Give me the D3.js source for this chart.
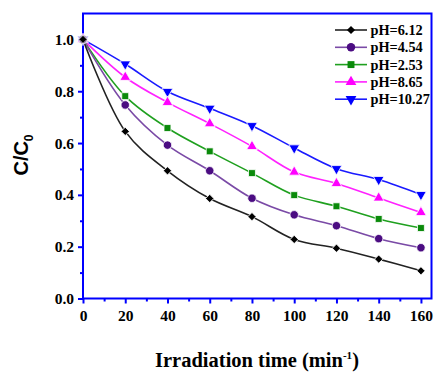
<!DOCTYPE html>
<html><head><meta charset="utf-8">
<script src="https://cdn.jsdelivr.net/npm/d3@7"></script>
<style>body{margin:0;background:#fff}svg{display:block}</style>
</head><body>
<svg id="c" width="434" height="373"></svg>
<script>
const times = [0, 20, 40, 60, 80, 100, 120, 140, 160];
const ph612  = [1.0, 0.645, 0.493, 0.386, 0.316, 0.228, 0.194, 0.152, 0.107];
const ph454  = [1.0, 0.747, 0.592, 0.493, 0.387, 0.323, 0.281, 0.231, 0.196];
const ph253  = [1.0, 0.781, 0.658, 0.568, 0.484, 0.399, 0.356, 0.307, 0.272];
const ph865  = [1.0, 0.854, 0.757, 0.675, 0.587, 0.488, 0.444, 0.388, 0.332];
const ph1027 = [1.0, 0.905, 0.799, 0.734, 0.667, 0.581, 0.501, 0.459, 0.401];
const seriesNames = ["pH=6.12", "pH=4.54", "pH=2.53", "pH=8.65", "pH=10.27"];
const xTicks = [0, 20, 40, 60, 80, 100, 120, 140, 160];
const yTicks = [0.0, 0.2, 0.4, 0.6, 0.8, 1.0];

const series = [
  {name: seriesNames[0], values: ph612,  line: "#222222", fill: "#000000", sym: d3.symbolSquare, size: 34, rot: 45},
  {name: seriesNames[1], values: ph454,  line: "#7a4aa6", fill: "#4b0c82", sym: d3.symbolCircle,  size: 56, rot: 0},
  {name: seriesNames[2], values: ph253,  line: "#1fa01f", fill: "#0a8a0a", sym: d3.symbolSquare,  size: 48, rot: 0},
  {name: seriesNames[3], values: ph865,  line: "#ff22ff", fill: "#ff00ff", sym: d3.symbolTriangle, size: 50, rot: 0},
  {name: seriesNames[4], values: ph1027, line: "#1a1aff", fill: "#0000ff", sym: d3.symbolTriangle, size: 50, rot: 180}
];

const svg = d3.select("#c");
const L = 83, R = 431.5, T = 13.5, B = 298.5;
const x = d3.scaleLinear().domain([0, 165]).range([L, R]);
const y = d3.scaleLinear().domain([0, 1.1]).range([B, T]);
const axisColor = "#0000ff";
const serif = "'Liberation Serif','Times New Roman',serif";

// frame
svg.append("rect").attr("x", L).attr("y", T).attr("width", R - L).attr("height", B - T)
  .attr("fill", "none").attr("stroke", axisColor).attr("stroke-width", 2);

// x axis
const xMinor = d3.range(10, 165, 20);
const gx = svg.append("g").attr("transform", `translate(0,${B})`);
gx.call(d3.axisBottom(x).tickValues(xTicks).tickSize(5).tickPadding(6).tickFormat(d3.format("d")));
gx.append("g").call(d3.axisBottom(x).tickValues(xMinor).tickSize(3).tickFormat(""));
// y axis
const yMinor = d3.range(0.1, 1.1, 0.2);
const gy = svg.append("g").attr("transform", `translate(${L},0)`);
gy.call(d3.axisLeft(y).tickValues(yTicks).tickSize(5).tickPadding(4).tickFormat(d3.format(".1f")));
gy.append("g").call(d3.axisLeft(y).tickValues(yMinor).tickSize(3).tickFormat(""));

svg.selectAll(".domain").remove();
svg.selectAll(".tick line").attr("stroke", axisColor).attr("stroke-width", 2);
svg.selectAll(".tick text").attr("fill", "#000").attr("font-family", serif)
  .attr("font-weight", "bold").attr("font-size", 15.5);

// series
const lineGen = d3.line().x(d => x(d[0])).y(d => y(d[1])).curve(d3.curveCatmullRom.alpha(0.5));
const order = series.slice().reverse();
order.forEach(s => {
  const pts = times.map((t, i) => [t, s.values[i]]);
  svg.append("path").attr("d", lineGen(pts)).attr("fill", "none")
    .attr("stroke", s.line).attr("stroke-width", 1.6);
});
order.forEach(s => {
  const pts = times.map((t, i) => [t, s.values[i]]);
  svg.append("g").selectAll("path").data(pts).join("path")
    .attr("d", d3.symbol().type(s.sym).size(s.size))
    .attr("transform", d => `translate(${x(d[0])},${y(d[1])}) rotate(${s.rot})`)
    .attr("fill", s.fill).attr("stroke", "#fff").attr("stroke-width", 0.8);
});

// legend
const lg = svg.append("g");
series.forEach((s, i) => {
  const yy = 30 + i * 17.3;
  lg.append("line").attr("x1", 335).attr("x2", 367).attr("y1", yy).attr("y2", yy)
    .attr("stroke", s.line).attr("stroke-width", 1.6);
  lg.append("path").attr("d", d3.symbol().type(s.sym).size(s.size))
    .attr("transform", `translate(351,${yy}) rotate(${s.rot})`)
    .attr("fill", s.fill);
  lg.append("text").attr("x", 370.5).attr("y", yy + 5).text(s.name)
    .attr("font-family", serif).attr("font-weight", "bold").attr("font-size", 14.3).attr("fill", "#000");
});

// axis titles
svg.append("text").attr("transform", "translate(28,155) rotate(-90)")
  .attr("text-anchor", "middle").attr("font-family", "'Liberation Sans',Arial,sans-serif")
  .attr("font-weight", "bold").attr("font-size", 20).attr("fill", "#000")
  .html('C/C<tspan font-size="12" dy="5">0</tspan>');
svg.append("text").attr("x", 257).attr("y", 367).attr("text-anchor", "middle")
  .attr("font-family", serif).attr("font-weight", "bold").attr("font-size", 20.5).attr("fill", "#000")
  .html('Irradiation time (min<tspan font-size="11" dy="-8">-1</tspan><tspan dy="8">)</tspan>');
</script>
</body></html>
